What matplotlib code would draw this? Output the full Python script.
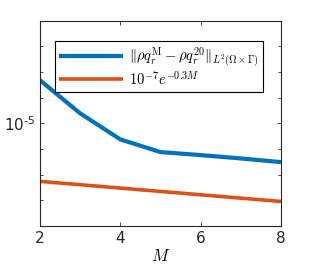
"""
Convergence of the truncated expansion versus the reference rate.
"""
import numpy as np
import matplotlib
matplotlib.use('Agg')
import matplotlib.pyplot as plt
from matplotlib.font_manager import FontProperties
from matplotlib.ticker import FixedLocator, FixedFormatter, NullFormatter

# Data
M = [2, 3, 4, 5, 6, 7, 8]
err = [4.79e-4, 2.45e-5, 2.37e-6, 7.6e-7, 5.8e-7, 4.3e-7, 3.08e-7]
rate = [5.49e-8, 4.07e-8, 3.01e-8, 2.23e-8, 1.65e-8, 1.22e-8, 9.07e-9]

xticks = [2, 4, 6, 8]
label_err = r'$\|\rho q_r^{\rm M}-\rho q_r^{20}\|_{L^2(\Omega\times\Gamma)}$'
label_rate = r'$10^{-7}e^{-0.3M}$'

blue = '#0072BD'
orange = '#D95319'

fig = plt.figure(figsize=(3.09, 2.72), dpi=100, facecolor='white')
ax = fig.add_axes([0.1294, 0.169, 0.780, 0.755])

ax.plot(M, err, color=blue, lw=3.0, solid_capstyle='butt')
ax.plot(M, rate, color=orange, lw=2.6, solid_capstyle='butt')

ax.set_yscale('log')
ax.set_xlim(2, 8)
ax.set_ylim(1e-9, 1e-1)

# ticks: MATLAB style, inward on all sides, only 10^-5 labelled
ax.set_xticks(xticks)
ax.set_xticklabels([str(t) for t in xticks])
ax.yaxis.set_major_locator(FixedLocator([1e-5]))
ax.yaxis.set_major_formatter(FixedFormatter([r'10$^{\mathregular{\text{-}5}}$']))
ax.yaxis.set_minor_locator(FixedLocator([10.0**k for k in range(-9, 0) if k != -5]))
ax.yaxis.set_minor_formatter(NullFormatter())
ax.tick_params(which='both', direction='in', top=True, right=True,
               width=0.6, colors='#262626', labelsize=11)
ax.tick_params(which='major', length=3)
ax.tick_params(which='minor', length=2)
for s in ax.spines.values():
    s.set_linewidth(0.8)
    s.set_color('#262626')

xfont = FontProperties(size=12, math_fontfamily='cm')
ax.set_xlabel(r'$M$', fontproperties=xfont, labelpad=1)

lfont = FontProperties(size=10.5, math_fontfamily='cm')
leg = ax.legend([label_err, label_rate], prop=lfont, loc='upper left',
                bbox_to_anchor=(0.062, 0.90), borderaxespad=0,
                handlelength=4.4, handletextpad=0.35, labelspacing=0.0,
                borderpad=0.3, fancybox=False, edgecolor='black', framealpha=1)
leg.get_frame().set_linewidth(0.8)

plt.savefig('out.png', dpi=100, facecolor='white')
